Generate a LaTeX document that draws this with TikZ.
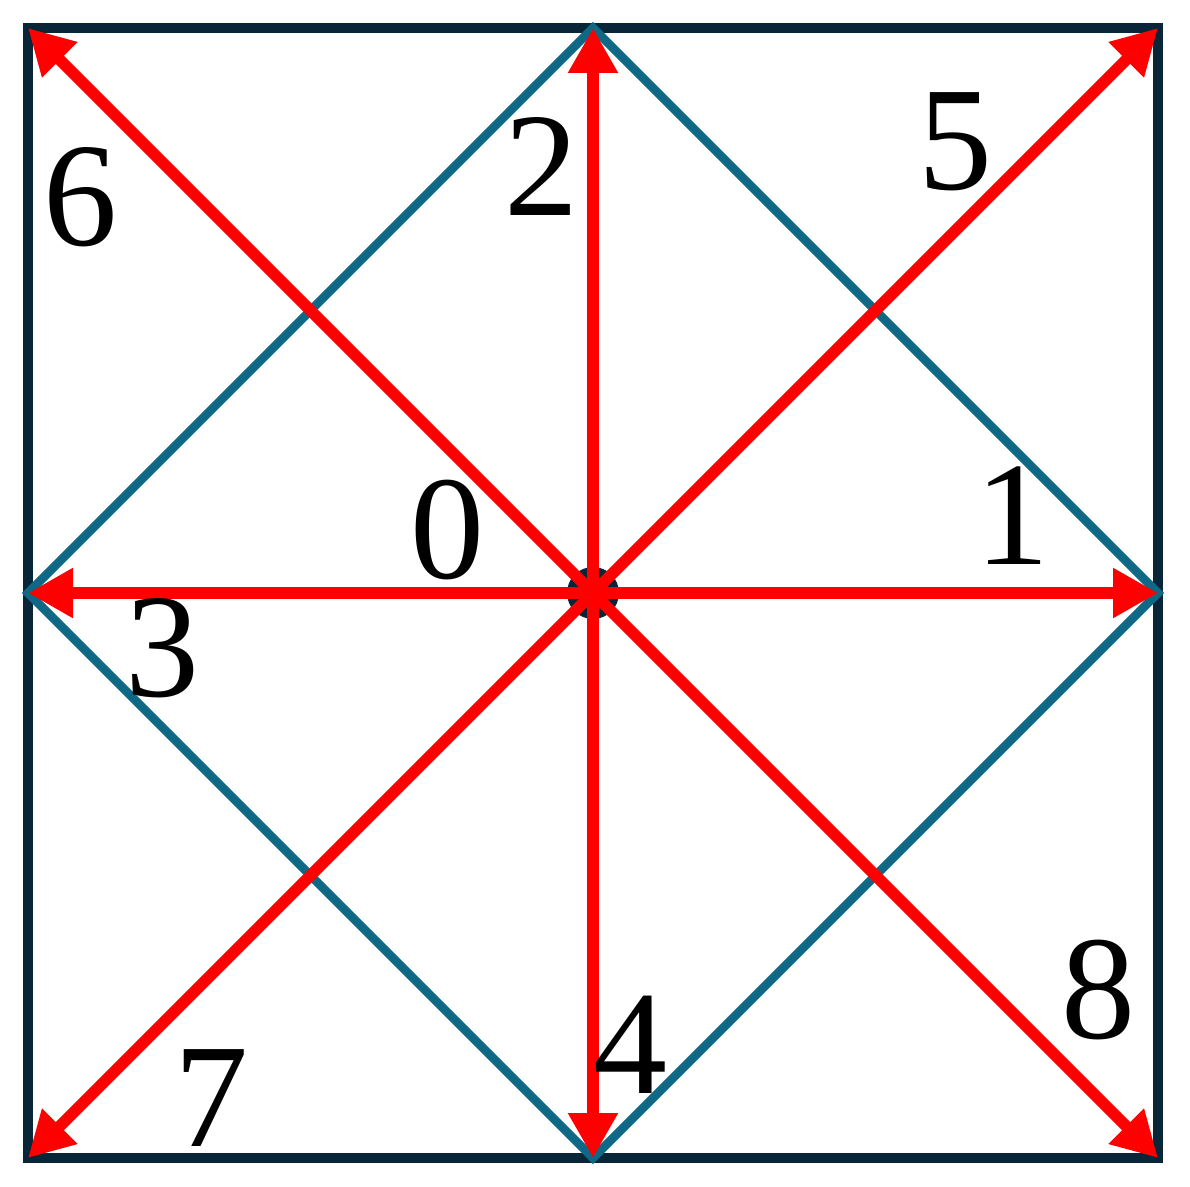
\documentclass[tikz,border=0pt]{standalone}
\usepackage{fontspec}
\setmainfont{Liberation Serif}
\usetikzlibrary{arrows.meta}
\definecolor{frame}{RGB}{8,38,56}
\definecolor{teal}{RGB}{14,104,134}
\definecolor{arrowred}{RGB}{255,0,0}
\tikzset{
  framebox/.style={draw=frame, line width=5pt},
  diamondline/.style={draw=teal, line width=4.3pt, line join=miter},
  redarrow/.style={draw=arrowred, line width=5.8pt, -{Triangle[length=22.5pt,width=23.5pt]}},
  hubdot/.style={circle, fill=frame, minimum size=26pt, inner sep=0pt},
  digit/.style={inner sep=0pt, font=\fontsize{74}{74}\selectfont, text=black}
}
\begin{document}
\begin{tikzpicture}[x=0.5pt,y=-0.5pt]
\useasboundingbox (0,0) rectangle (1190,1187);
% corners and midpoints
\coordinate (tl) at (28,28);
\coordinate (tr) at (1158,28);
\coordinate (br) at (1158,1158);
\coordinate (bl) at (28,1158);
\coordinate (tm) at (593,28);
\coordinate (rm) at (1158,593);
\coordinate (bm) at (593,1158);
\coordinate (lm) at (28,593);
\coordinate (c) at (593,593);
% frame
\draw[framebox] (tl) rectangle (br);
% diamond
\draw[diamondline] (tm) -- (rm) -- (bm) -- (lm) -- cycle;
% hub
\node[hubdot] (hub) at (c) {};
% arrows
\draw[redarrow] (hub.center) -- (tm);
\draw[redarrow] (hub.center) -- (bm);
\draw[redarrow] (hub.center) -- (lm);
\draw[redarrow] (hub.center) -- (rm);
\draw[redarrow] (hub.center) -- (tl);
\draw[redarrow] (hub.center) -- (tr);
\draw[redarrow] (hub.center) -- (bl);
\draw[redarrow] (hub.center) -- (br);
% labels
\node[digit] (l0) at (447,530) {0};
\node[digit] (l1) at (1012,516) {1};
\node[digit] (l2) at (541,167) {2};
\node[digit] (l3) at (162,648) {3};
\node[digit] (l4) at (630,1045) {4};
\node[digit] (l5) at (955,142) {5};
\node[digit] (l6) at (80,197) {6};
\node[digit] (l7) at (211,1098) {7};
\node[digit] (l8) at (1098,990) {8};
\end{tikzpicture}
\end{document}
